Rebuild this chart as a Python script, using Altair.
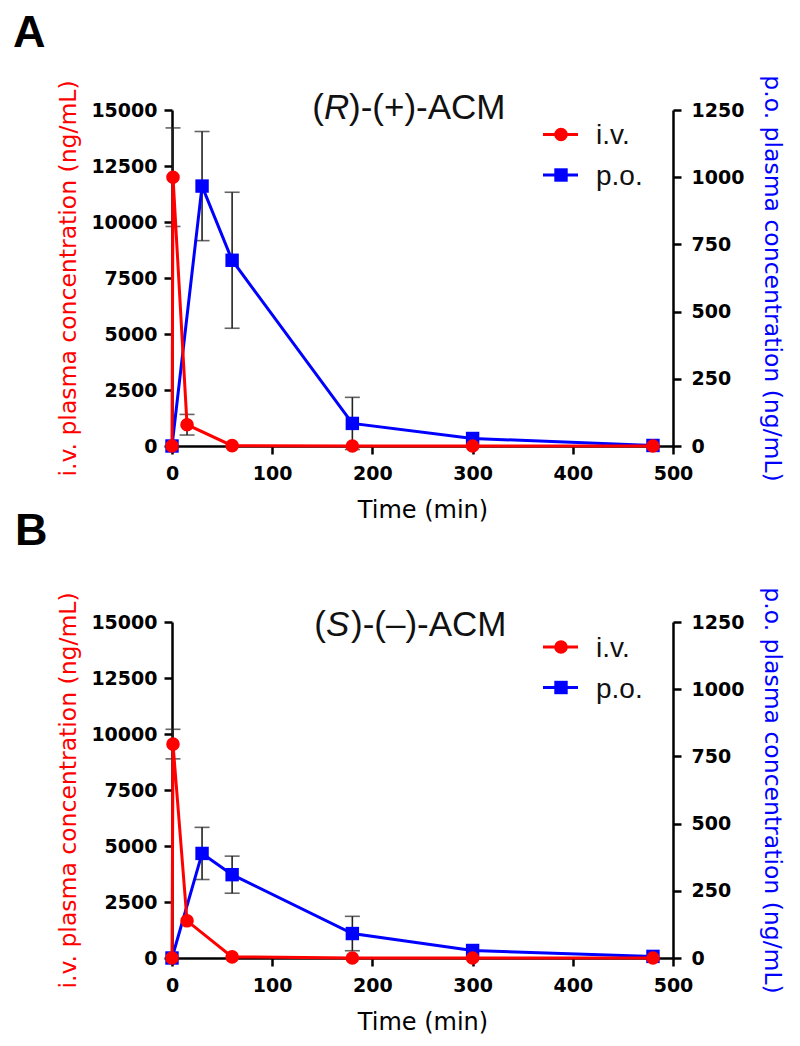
import altair as alt
import pandas as pd

# ---------------- data ----------------
time_iv = [0, 1, 15, 60, 180, 300, 480]
time_po = [0, 30, 60, 180, 300, 480]

ivA = [0, 12000, 950, 15, 0, 0, 0]
ivA_sd = [0, 2200, 460, 0, 0, 0, 0]
poA = [0, 967, 691, 84, 28, 2]
poA_sd = [0, 203, 253, 97, 0, 0]

ivB = [0, 9550, 1660, 50, 0, 0, 0]
ivB_sd = [0, 660, 0, 0, 0, 0, 0]
poB = [0, 389, 310, 91, 28, 6]
poB_sd = [0, 97, 69, 64, 0, 0]

x_ticks = [0, 100, 200, 300, 400, 500]
iv_ticks = [0, 2500, 5000, 7500, 10000, 12500, 15000]
po_ticks = [0, 250, 500, 750, 1000, 1250]

RED = "#ff0000"
BLUE = "#0000ff"
W, H = 501, 336
TICKF = "DejaVu Sans"
TXTF = "Liberation Sans"


def frame(t, v, sd):
    return pd.DataFrame({"t": t, "v": v,
                         "lo": [a - b for a, b in zip(v, sd)],
                         "hi": [a + b for a, b in zip(v, sd)],
                         "sd": sd})


common_axis = dict(tickSize=8, tickWidth=2.5, domainWidth=2.5, domainColor="black",
                   tickColor="black", labelFont=TICKF, labelFontWeight="bold",
                   labelFontSize=19, labelColor="black", titleFont=TICKF,
                   titleFontWeight="normal", grid=False, labelOverlap=False)

x_axis = alt.Axis(values=x_ticks, format="d", title="Time (min)", labelPadding=10,
                  titleFontSize=24, titleColor="black", titlePadding=15,
                  labelFlush=False, **common_axis)
yl_axis = alt.Axis(values=iv_ticks, format="d", orient="left",
                   title="i.v. plasma concentration (ng/mL)", titleColor=RED,
                   titleFontSize=23.5, labelPadding=7, titlePadding=10, **common_axis)
yr_axis = alt.Axis(values=po_ticks, format="d", orient="right",
                   title="p.o. plasma concentration (ng/mL)", titleColor=BLUE,
                   titleFontSize=23.5, labelPadding=10, titlePadding=16, **common_axis)

X = alt.X("t:Q", scale=alt.Scale(domain=[0, 500], nice=False), axis=x_axis)

SZ_C, SZ_S = 185, 180


def series(df, ymax, axis, color, shape, size):
    ysc = alt.Scale(domain=[0, ymax], nice=False, zero=True)
    err = df[df["sd"] > 0]
    rules = alt.Chart(err).mark_rule(color="#222222", strokeWidth=1.6).encode(
        x=X, y=alt.Y("lo:Q", scale=ysc, axis=axis), y2="hi:Q")
    caps_lo = alt.Chart(err).mark_tick(orient="horizontal", color="#222222",
                                       thickness=1.6, size=15).encode(
        x=X, y=alt.Y("lo:Q", scale=ysc, axis=axis))
    caps_hi = alt.Chart(err).mark_tick(orient="horizontal", color="#222222",
                                       thickness=1.6, size=15).encode(
        x=X, y=alt.Y("hi:Q", scale=ysc, axis=axis))
    line = alt.Chart(df).mark_line(color=color, strokeWidth=3).encode(
        x=X, y=alt.Y("v:Q", scale=ysc, axis=axis))
    pts = alt.Chart(df).mark_point(color=color, shape=shape, filled=True,
                                   size=size, opacity=1).encode(
        x=X, y=alt.Y("v:Q", scale=ysc, axis=axis))
    return alt.layer(rules, caps_lo, caps_hi, line, pts)


ONE = alt.Data(values=[{}])


def annotations(letter, letter_x, letter_y, enant, paren_x, title_y, rest, rows, text_rows):
    lay = []
    lay.append(alt.Chart(ONE).mark_text(text=letter, font=TXTF, fontWeight="bold",
                                        fontSize=45, align="left", baseline="alphabetic",
                                        color="black").encode(
        x=alt.value(letter_x), y=alt.value(letter_y)))
    lay.append(alt.Chart(ONE).mark_text(text="(", font=TXTF, fontSize=35, align="right",
                                        baseline="alphabetic", color="#111111").encode(
        x=alt.value(paren_x), y=alt.value(title_y)))
    lay.append(alt.Chart(ONE).mark_text(text=enant, font=TXTF, fontSize=35, fontStyle="italic",
                                        align="left", baseline="alphabetic",
                                        color="#111111").encode(
        x=alt.value(paren_x), y=alt.value(title_y)))
    lay.append(alt.Chart(ONE).mark_text(text=rest, font=TXTF, fontSize=35, align="left",
                                        baseline="alphabetic", color="#111111").encode(
        x=alt.value(paren_x + 25), y=alt.value(title_y)))
    for (lab, color, shape, size), ry, ty in zip(
            [("i.v.", RED, "circle", SZ_C), ("p.o.", BLUE, "square", SZ_S)], rows, text_rows):
        lay.append(alt.Chart(ONE).mark_rule(color=color, strokeWidth=3).encode(
            x=alt.value(371), x2=alt.value(406), y=alt.value(ry)))
        lay.append(alt.Chart(ONE).mark_point(color=color, shape=shape, filled=True,
                                             size=size, opacity=1).encode(
            x=alt.value(389), y=alt.value(ry)))
        lay.append(alt.Chart(ONE).mark_text(text=lab, font=TXTF, fontSize=28, align="left",
                                            baseline="alphabetic", color="#111111").encode(
            x=alt.value(424), y=alt.value(ty)))
    return alt.layer(*lay)


def panel(iv, iv_sd, po, po_sd, letter, letter_x, letter_y, enant, paren_x, title_y,
          rest, rows, text_rows):
    iv_l = series(frame(time_iv, iv, iv_sd), 15000, yl_axis, RED, "circle", SZ_C)
    po_l = series(frame(time_po, po, po_sd), 1250, yr_axis, BLUE, "square", SZ_S)
    ann = annotations(letter, letter_x, letter_y, enant, paren_x, title_y, rest, rows, text_rows)
    return alt.layer(po_l, iv_l, ann).resolve_scale(y="independent").properties(
        width=W, height=H)


pA = panel(ivA, ivA_sd, poA, poA_sd, "A", -159, -63, "R", 152, 9, ")-(+)-ACM",
           [24.5, 65], [34, 74.5])
pB = panel(ivB, ivB_sd, poB, poB_sd, "B", -157, -77, "S", 154, 14, ")-(\u2013)-ACM",
           [25, 65.5], [35, 76])

chart = alt.vconcat(pA, pB, spacing=176, bounds="flush").properties(
    padding={"left": 5, "top": 3, "right": 5, "bottom": 4},
).configure_view(stroke=None)

chart.save("out.html", embed_options={"renderer": "svg", "actions": False})
